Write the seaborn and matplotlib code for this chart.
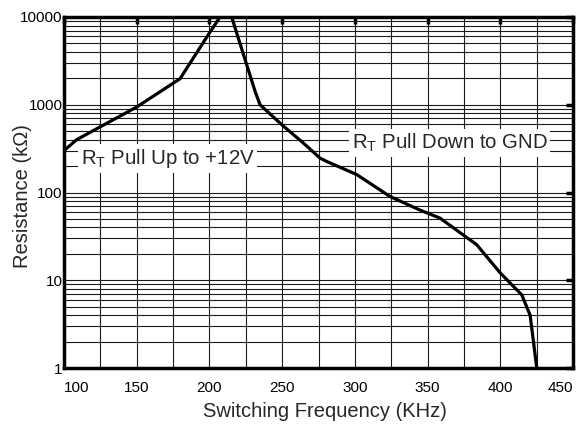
import numpy as np
import pandas as pd
import matplotlib
matplotlib.use("Agg")
import matplotlib.pyplot as plt
from matplotlib.ticker import FixedLocator, NullFormatter, LogLocator
import seaborn as sns

# Data
freq_up = [100.7, 108.7, 150, 179.8, 199.2, 207.3]
res_up = [307, 400, 943, 1980, 6280, 10000]

freq_down = [215.3, 231.4, 234.8, 249.7, 264.6, 276, 280.6, 301.3, 324.2, 344.8,
             358.6, 383.8, 400, 414.8, 420.5, 425.1]
res_down = [10000, 1420, 1000, 593, 366, 247, 226, 160, 90, 63,
            51, 25.4, 12.1, 6.8, 4.0, 1.0]

x_ticks = [100, 150, 200, 250, 300, 350, 400, 450]
y_ticks = [1, 10, 100, 1000, 10000]
y_tick_labels = ["1", "10", "100", "1000", "10000"]

sns.set_style("white")
plt.rcParams['font.family'] = ['Liberation Sans', 'DejaVu Sans']
plt.rcParams['mathtext.fontset'] = 'custom'
plt.rcParams['mathtext.rm'] = 'Liberation Sans'
plt.rcParams['mathtext.it'] = 'Liberation Sans:italic'

fig = plt.figure(figsize=(5.84, 4.28), dpi=100)
ax = fig.add_axes([64/584, 1-368/428, (573-64)/584, (368-17)/428])

df_up = pd.DataFrame({"f": freq_up, "r": res_up})
df_down = pd.DataFrame({"f": freq_down, "r": res_down})
sns.lineplot(data=df_up, x="f", y="r", ax=ax, color="black", lw=2.3,
             sort=False, estimator=None, zorder=5)
sns.lineplot(data=df_down, x="f", y="r", ax=ax, color="black", lw=2.3,
             sort=False, estimator=None, zorder=5)

ax.set_yscale("log")
ax.set_xlim(100, 450)
ax.set_ylim(1, 10000)

ax.xaxis.set_major_locator(FixedLocator(x_ticks))
ax.xaxis.set_minor_locator(FixedLocator(list(np.arange(100, 451, 25))))
ax.set_xticklabels([str(t) for t in x_ticks])
ax.yaxis.set_major_locator(FixedLocator(y_ticks))
ax.yaxis.set_minor_locator(LogLocator(base=10, subs=np.arange(2, 10)))
ax.yaxis.set_minor_formatter(NullFormatter())
ax.set_yticklabels(y_tick_labels)

ax.grid(True, which="both", color="#1a1a1a", lw=0.8)
ax.set_axisbelow(True)

ax.tick_params(axis="both", which="major", direction="in", length=5, width=2.5,
               top=True, right=True, labelsize=11, colors="black")
ax.tick_params(axis="both", which="minor", direction="in", length=0)
ax.tick_params(axis="x", which="major", pad=9)
ax.tick_params(axis="y", which="major", pad=1)

labs = ax.get_xticklabels()
labs[0].set_horizontalalignment("left")
labs[-1].set_horizontalalignment("right")

for s in ax.spines.values():
    s.set_linewidth(2.5)
    s.set_color("black")
    s.set_zorder(10)

ax.set_xlabel("Switching Frequency (KHz)", fontsize=14.5)
ax.xaxis.set_label_coords((325-64)/509, -(402-368)/351)
ax.set_ylabel("Resistance (k\u03A9)", fontsize=14.5)
ax.yaxis.set_label_coords(-(64-32)/509, 0.49)

bbox = dict(facecolor="white", edgecolor="none", pad=2)
ax.text(171.2, 243, r"R$_\mathrm{T}$ Pull Up to +12V", fontsize=14.7,
        ha="center", va="center", bbox=bbox, zorder=4)
ax.text(365.1, 369, r"R$_\mathrm{T}$ Pull Down to GND", fontsize=14.7,
        ha="center", va="center", bbox=bbox, zorder=4)

fig.savefig("out.png", dpi=100)
